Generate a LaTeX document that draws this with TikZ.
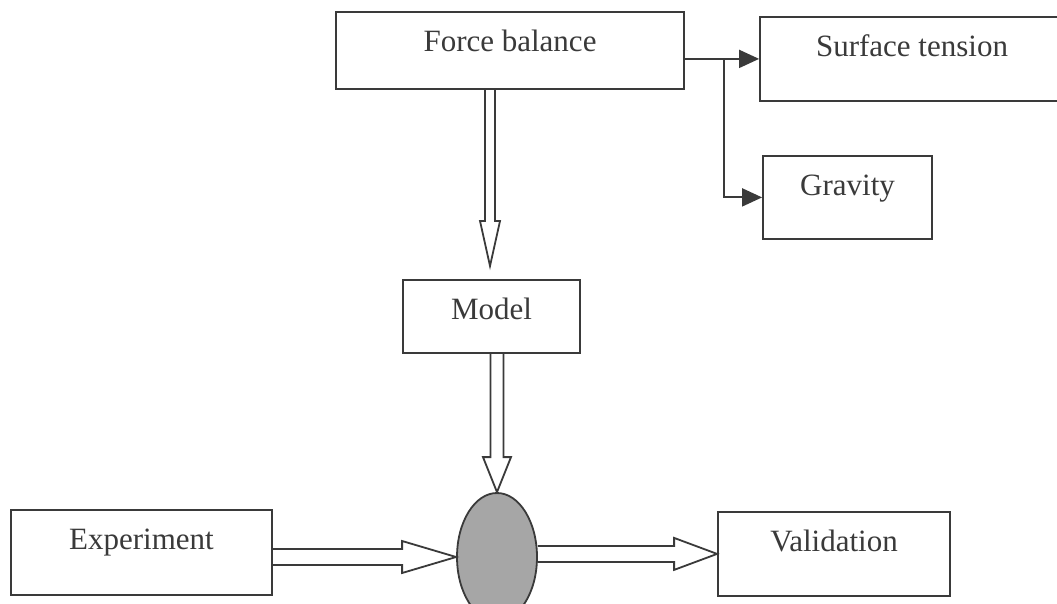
\documentclass[tikz,border=0pt]{standalone}
\usepackage{fontspec}
\setmainfont{Liberation Serif}
\usetikzlibrary{calc,arrows.meta,shapes.geometric}
\definecolor{ink}{HTML}{3A3A3A}
\tikzset{
  box/.style={draw=ink, line width=1.8pt, rectangle, inner sep=0pt, text height=40pt,
    font=\fontsize{31}{36}\selectfont, text=ink, align=center, anchor=north},
  conn/.style={draw=ink, line width=1.8pt, -{Triangle[length=20pt,width=18pt]}},
  hollowh/.style n args={3}{draw=ink, line width=1.8pt, line join=miter,
    to path={let \p1=(\tikztostart), \p2=(\tikztotarget) in
      (\x1,\y2+#1) -- (\x2-#3,\y2+#1) -- (\x2-#3,\y2+#2) -- (\x2,\y2)
      -- (\x2-#3,\y2-#2) -- (\x2-#3,\y2-#1) -- (\x1,\y2-#1)}},
  hollowv/.style n args={3}{draw=ink, line width=1.8pt, line join=miter,
    to path={let \p1=(\tikztostart), \p2=(\tikztotarget) in
      (\x2-#1,\y1) -- (\x2-#1,\y2+#3) -- (\x2-#2,\y2+#3) -- (\x2,\y2)
      -- (\x2+#2,\y2+#3) -- (\x2+#1,\y2+#3) -- (\x2+#1,\y1)}}
}
\begin{document}
\begin{tikzpicture}[x=1pt,y=-1pt]
\useasboundingbox[fill=white] (0,0) rectangle (1057,604);

\node[box, minimum width=348pt, text depth=37pt] (fb) at (510,11) {Force balance};
\node[box, minimum width=304pt, text depth=44pt] (st) at (912,16) {Surface tension};
\node[box, minimum width=169pt, text depth=43pt] (gr) at (847.5,155) {Gravity};
\node[box, minimum width=177pt, text depth=33pt] (model) at (491.5,279) {Model};
\node[box, minimum width=261pt, text depth=45pt] (exp) at (141.5,509) {Experiment};
\node[box, minimum width=232pt, text depth=44pt] (val) at (834,511) {Validation};
\node[draw=ink, line width=1.8pt, ellipse, fill=black!35, minimum width=80pt,
      minimum height=128pt, inner sep=0pt] (ell) at (497,557) {};

% thin connectors
\coordinate (fbout) at (fb.east |- st.west);
\draw[conn] (fbout) -- (st.west);
\coordinate (j) at ($(fbout)+(39,0)$);
\draw[conn] (j) |- (gr.west);

% hollow block arrows
\coordinate (mtop) at ($(model.north)+(-1.5,-13)$);
\draw[hollowv={5pt}{10pt}{45pt}] (fb.south) to (mtop);
\coordinate (etop) at (ell.north);
\draw[hollowv={6.5pt}{14pt}{35pt}] (model.south) to (etop);
\draw[hollowh={8pt}{16pt}{54pt}] (exp.east) to (ell.west);
\draw[hollowh={8pt}{16pt}{43pt}] (ell.east) to (val.west);
\end{tikzpicture}
\end{document}
